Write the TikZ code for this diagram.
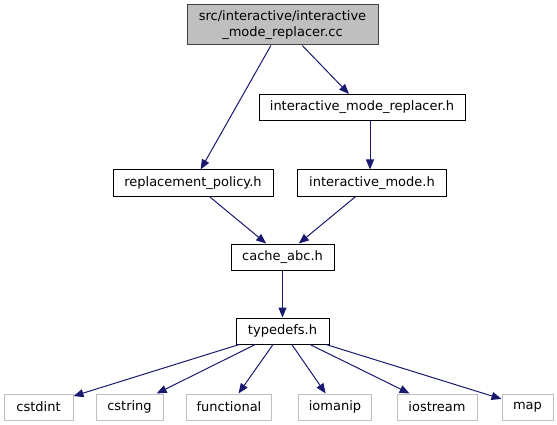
\documentclass[tikz,border=0pt]{standalone}
\usepackage{fontspec}
\setmainfont{DejaVu Sans}
\usetikzlibrary{arrows.meta}
\definecolor{edgeblue}{HTML}{191970}
\definecolor{sysgray}{HTML}{BFBFBF}
\definecolor{topfill}{HTML}{BFBFBF}
\definecolor{topborder}{HTML}{404040}
\begin{document}
\begin{tikzpicture}[x=1pt,y=-1pt,
  every node/.style={font=\fontsize{13}{16}\selectfont, inner sep=0pt, text=black},
  hdr/.style={draw=black, line width=1pt, fill=white, minimum height=26pt},
  sys/.style={draw=sysgray, line width=1pt, fill=white, minimum height=26pt},
  topbox/.style={draw=topborder, line width=1pt, fill=topfill, minimum height=40pt, minimum width=191pt, align=center},
  dep/.style={draw=edgeblue, line width=1pt, -{Triangle[length=10pt,width=8pt,fill=edgeblue]}}]
\useasboundingbox (0,0) rectangle (557,425);
\node[topbox] (src) at (282.5,25) {src/interactive/interactive\\\_mode\_replacer.cc};
\node[hdr, minimum width=206pt] (imr) at (362,107.5) {interactive\_mode\_replacer.h};
\node[hdr, minimum width=160pt] (rp) at (193,183) {replacement\_policy.h};
\node[hdr, minimum width=149pt] (im) at (372,183) {interactive\_mode.h};
\node[hdr, minimum width=103pt] (cache) at (282.5,257) {cache\_abc.h};
\node[hdr, minimum width=93pt] (typedefs) at (282.5,331) {typedefs.h};
\node[sys, minimum width=69pt] (cstdint) at (38.5,407) {cstdint};
\node[sys, minimum width=67pt] (cstring) at (129.5,407) {cstring};
\node[sys, minimum width=85pt] (functional) at (229,407) {functional};
\node[sys, minimum width=73pt] (iomanip) at (335,407) {iomanip};
\node[sys, minimum width=80pt] (iostream) at (437,407) {iostream};
\node[sys, minimum width=51pt] (map) at (527.5,407) {map};
\draw[dep] (src) -- (rp);
\draw[dep] (src) -- (imr);
\draw[dep] (imr.south -| 370,0) -- (im.north -| 370,0);
\draw[dep] (rp) -- (cache);
\draw[dep] (im) -- (cache);
\draw[dep] (cache) -- (typedefs);
\foreach \t in {cstdint,cstring,functional,iomanip,iostream,map}
  \draw[dep] (typedefs) -- (\t);
\end{tikzpicture}
\end{document}
